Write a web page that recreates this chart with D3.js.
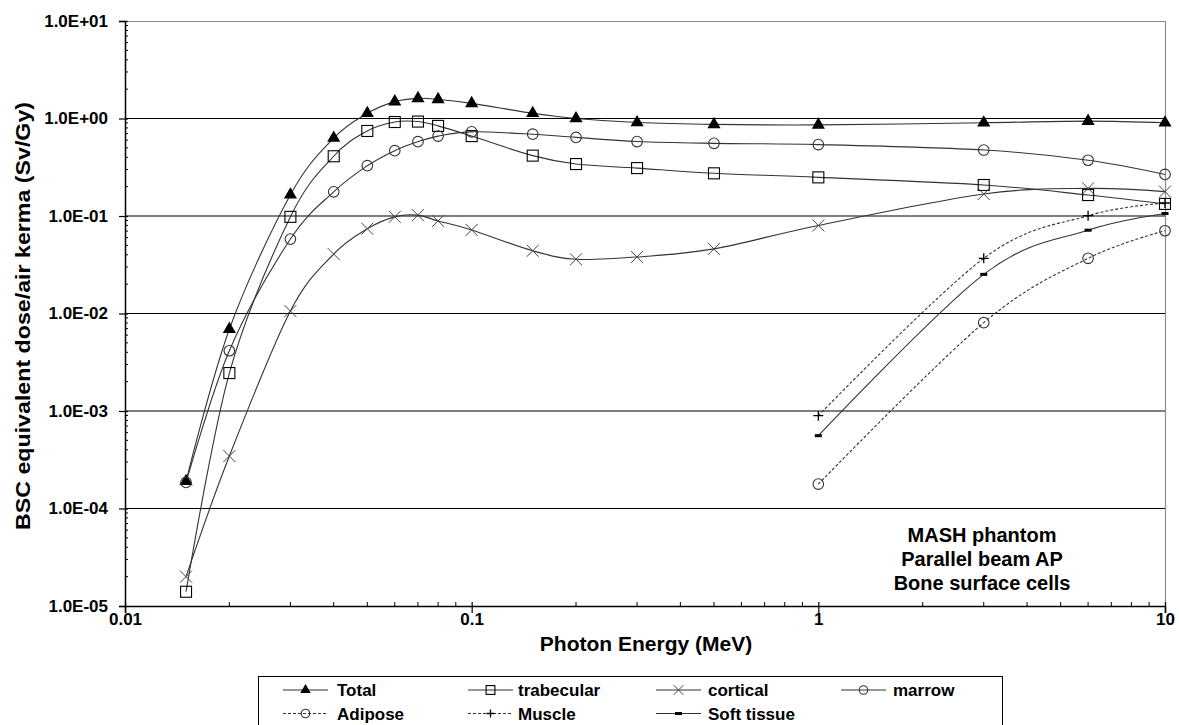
<!DOCTYPE html>
<html>
<head>
<meta charset="utf-8">
<script src="https://cdn.jsdelivr.net/npm/d3@7"></script>
<style>
  body { margin: 0; background: #fff; }
  text { font-family: "Liberation Sans", Arial, sans-serif; font-weight: bold; fill: #000; }
</style>
</head>
<body>
<div id="chart"></div>
<script>
// photon energies (MeV)
var energies = [0.015, 0.02, 0.03, 0.04, 0.05, 0.06, 0.07, 0.08, 0.1, 0.15, 0.2, 0.3, 0.5, 1, 3, 6, 10];
var energiesHigh = [1, 3, 6, 10];

var total      = [1.9e-4, 6.9e-3, 0.165, 0.63, 1.13, 1.49, 1.61, 1.57, 1.43, 1.13, 1.0, 0.91, 0.87, 0.86, 0.905, 0.94, 0.905];
var trabecular = [1.4e-5, 2.45e-3, 0.098, 0.41, 0.745, 0.92, 0.93, 0.84, 0.66, 0.416, 0.341, 0.31, 0.274, 0.249, 0.208, 0.164, 0.133];
var cortical   = [2.0e-5, 3.45e-4, 0.0106, 0.0407, 0.074, 0.098, 0.102, 0.089, 0.072, 0.044, 0.036, 0.038, 0.046, 0.08, 0.168, 0.192, 0.178];
var marrow     = [1.85e-4, 4.15e-3, 0.058, 0.177, 0.328, 0.468, 0.578, 0.66, 0.73, 0.69, 0.64, 0.58, 0.556, 0.54, 0.475, 0.373, 0.267];
var adipose    = [1.78e-4, 0.00805, 0.0368, 0.0706];
var muscle     = [8.95e-4, 0.0368, 0.1007, 0.136];
var softTissue = [5.58e-4, 0.0252, 0.0715, 0.106];

var yTicks = [1e-5, 1e-4, 1e-3, 1e-2, 1e-1, 1, 10];
var yTickLabels = ["1.0E-05", "1.0E-04", "1.0E-03", "1.0E-02", "1.0E-01", "1.0E+00", "1.0E+01"];
var xTicks = [0.01, 0.1, 1, 10];
var xTickLabels = ["0.01", "0.1", "1", "10"];
var notes = ["MASH phantom", "Parallel beam AP", "Bone surface cells"];

var series = [
  {name: "Total", x: energies, y: total, marker: "triangle", dash: null},
  {name: "trabecular", x: energies, y: trabecular, marker: "square", dash: null},
  {name: "cortical", x: energies, y: cortical, marker: "cross", dash: null},
  {name: "marrow", x: energies, y: marrow, marker: "circle", dash: null},
  {name: "Adipose", x: energiesHigh, y: adipose, marker: "circle", dash: "3,2"},
  {name: "Muscle", x: energiesHigh, y: muscle, marker: "plus", dash: "3,2"},
  {name: "Soft tissue", x: energiesHigh, y: softTissue, marker: "bar", dash: null}
];

const W = 1179, H = 725;
const mLeft = 125, mRight = 1165, mTop = 21, mBottom = 606;

var svg = d3.select('#chart').append('svg').attr('width', W).attr('height', H);

var x = d3.scaleLog().domain([0.01, 10]).range([mLeft, mRight]);
var y = d3.scaleLog().domain([1e-5, 10]).range([mBottom, mTop]);

// horizontal grid lines
svg.append('g').selectAll('line').data(yTicks.slice(1, -1)).enter().append('line')
  .attr('x1', mLeft).attr('x2', mRight)
  .attr('y1', d => y(d)).attr('y2', d => y(d))
  .attr('stroke', '#000').attr('stroke-width', 1.2);

// plot border top / right
svg.append('path')
  .attr('d', `M${mLeft},${mTop + 0.5}H${mRight + 0.5}V${mBottom}`)
  .attr('fill', 'none').attr('stroke', '#8c8c8c').attr('stroke-width', 1.2);

// minor ticks
var yMinor = [];
yTicks.slice(0, -1).forEach(function(t){ for (var k = 2; k < 10; k++) yMinor.push(t * k); });
var xMinor = [];
xTicks.slice(0, -1).forEach(function(t){ for (var k = 2; k < 10; k++) xMinor.push(t * k); });

// y axis
var yAxis = svg.append('g').attr('transform', `translate(${mLeft},0)`)
  .call(d3.axisLeft(y).tickValues(yTicks).tickFormat((d, i) => yTickLabels[i]).tickSize(6).tickPadding(11));
yAxis.select('.domain').attr('stroke', '#000').attr('stroke-width', 1.5);
yAxis.selectAll('.tick line').attr('x2', -6).attr('x1', 3).attr('stroke-width', 1.2);
yAxis.selectAll('text').style('font-size', '17px').style('font-family', '"Liberation Sans", Arial, sans-serif').attr('fill', '#000');
yAxis.selectAll('.minor').data(yMinor).enter().append('line')
  .attr('class', 'minor')
  .attr('x1', 0).attr('x2', 3)
  .attr('y1', d => y(d)).attr('y2', d => y(d))
  .attr('stroke', '#000').attr('stroke-width', 1);

// x axis
var xAxis = svg.append('g').attr('transform', `translate(0,${mBottom})`)
  .call(d3.axisBottom(x).tickValues(xTicks).tickFormat((d, i) => xTickLabels[i]).tickSize(7).tickPadding(0));
xAxis.select('.domain').attr('stroke', '#000').attr('stroke-width', 1.5);
xAxis.selectAll('.tick line').attr('y1', -4).attr('stroke-width', 1.2);
xAxis.selectAll('text').style('font-size', '17px').style('font-family', '"Liberation Sans", Arial, sans-serif').attr('fill', '#000');
xAxis.selectAll('.minor').data(xMinor).enter().append('line')
  .attr('class', 'minor')
  .attr('y1', 0).attr('y2', -4)
  .attr('x1', d => x(d)).attr('x2', d => x(d))
  .attr('stroke', '#000').attr('stroke-width', 1);

// axis titles
svg.append('text')
  .attr('transform', 'translate(30,316) rotate(-90)')
  .attr('text-anchor', 'middle')
  .style('font-size', '21px')
  .attr('textLength', 428)
  .attr('lengthAdjust', 'spacingAndGlyphs')
  .text('BSC equivalent dose/air kerma (Sv/Gy)');
svg.append('text')
  .attr('x', 646).attr('y', 651)
  .attr('text-anchor', 'middle')
  .style('font-size', '21px')
  .text('Photon Energy (MeV)');

// annotation
svg.append('g').selectAll('text').data(notes).enter().append('text')
  .attr('x', 982).attr('y', (d, i) => 542 + i * 24)
  .attr('text-anchor', 'middle')
  .style('font-size', '20px')
  .text(d => d);

// markers (open markers are unfilled, so lines show through)
function drawMarker(g, type, cx, cy, k) {
  k = k || 1;
  if (type === 'triangle') {
    g.append('path').attr('d', d3.symbol().type(d3.symbolTriangle).size(75 * k * k)())
      .attr('transform', `translate(${cx},${cy})`).attr('fill', '#000');
  } else if (type === 'square') {
    var h = 5.5 * k;
    g.append('rect').attr('x', cx - h).attr('y', cy - h).attr('width', 2 * h).attr('height', 2 * h)
      .attr('fill', 'none').attr('stroke', '#000').attr('stroke-width', 1.1);
  } else if (type === 'circle') {
    g.append('circle').attr('cx', cx).attr('cy', cy).attr('r', 5.3 * k)
      .attr('fill', 'none').attr('stroke', '#333').attr('stroke-width', 1.1);
  } else if (type === 'cross') {
    var c = 6 * k;
    g.append('path').attr('d', `M${cx - c},${cy - c}L${cx + c},${cy + c}M${cx - c},${cy + c}L${cx + c},${cy - c}`)
      .attr('stroke', '#444').attr('stroke-width', 1);
  } else if (type === 'plus') {
    var p = 5 * k;
    g.append('path').attr('d', `M${cx - p},${cy}L${cx + p},${cy}M${cx},${cy - p}L${cx},${cy + p}`)
      .attr('stroke', '#000').attr('stroke-width', 1.3);
  } else if (type === 'bar') {
    g.append('rect').attr('x', cx - 3.5).attr('y', cy - 1.5).attr('width', 7).attr('height', 3)
      .attr('fill', '#000');
  }
}

var line = d3.line()
  .x(d => x(d[0])).y(d => y(d[1]))
  .curve(d3.curveCatmullRom.alpha(0));

var lines = svg.append('g');
var marks = svg.append('g');
series.forEach(function(s) {
  var pts = s.x.map((e, i) => [e, s.y[i]]);
  lines.append('path')
    .attr('d', line(pts))
    .attr('fill', 'none')
    .attr('stroke', '#333')
    .attr('stroke-width', 1.1)
    .attr('stroke-dasharray', s.dash);
  var g = marks.append('g');
  pts.forEach(p => drawMarker(g, s.marker, x(p[0]), y(p[1])));
});

// legend
var legend = svg.append('g');
legend.append('rect').attr('x', 258.5).attr('y', 676.5).attr('width', 744).attr('height', 60)
  .attr('fill', '#fff').attr('stroke', '#000').attr('stroke-width', 1);
var colLine = [283, 468, 656, 841];
var colText = [337, 518, 708, 893];
series.forEach(function(s, i) {
  var col = i < 4 ? i : i - 4;
  var row = i < 4 ? 0 : 1;
  var lx = colLine[col], ly = 690 + row * 23.5;
  legend.append('line').attr('x1', lx).attr('x2', lx + 45).attr('y1', ly).attr('y2', ly)
    .attr('stroke', '#333').attr('stroke-width', 1.1).attr('stroke-dasharray', s.dash);
  var g = legend.append('g');
  drawMarker(g, s.marker, lx + 22.5, ly, 0.8);
  legend.append('text').attr('x', colText[col]).attr('y', ly + 6)
    .style('font-size', '17px')
    .text(s.name);
});
</script>
</body>
</html>
